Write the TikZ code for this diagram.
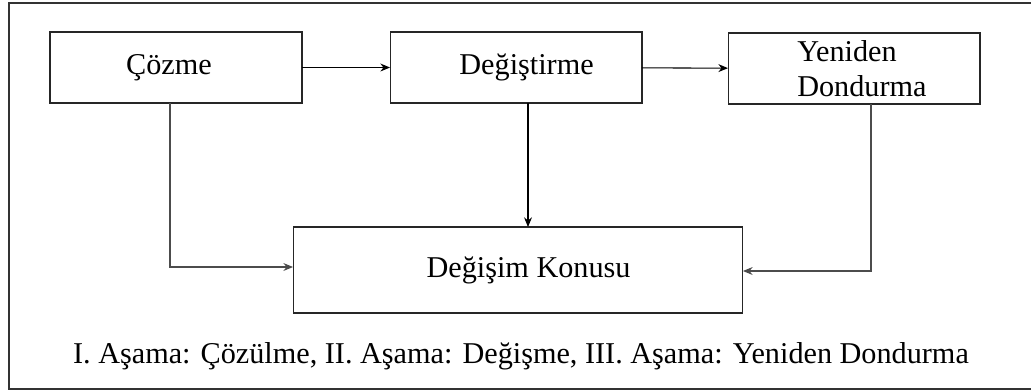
\documentclass[tikz,border=0pt]{standalone}
\usepackage{fontspec}
\setmainfont{Liberation Serif}
\usetikzlibrary{arrows.meta}
\tikzstyle{arrow} = [line width=0.6pt,-{Stealth[length=5.5pt,width=4.5pt]}]
\tikzstyle{stage} = [draw=black!85,line width=0.6pt,outer sep=0pt,minimum width=5.04cm,minimum height=1.42cm]

\begin{document}
\begin{tikzpicture}[x=0.02cm,y=-0.02cm,font=\fontsize{17.2}{20}\selectfont]
\useasboundingbox (0,0) rectangle (1031,390);

% Frame (open on the right)
\draw[line width=1.2pt,black!80] (1040,3) -- (9,3) -- (9,389) -- (1040,389);

% Stage boxes
\node[stage] (cozme) at (176,67.5) {Çözme\hspace*{8pt}};
\node[stage] (degistirme) at (516,67.5) {\hspace*{12pt}Değiştirme};
\node[stage,align=left] (yeniden) at (854,68.5) {\hspace*{9pt}Yeniden\\\hspace*{9pt}Dondurma};

% Subject box
\node[stage,minimum width=9cm,minimum height=1.72cm] (konu) at (518,270) {\hspace*{12pt}Değişim Konusu};

% Caption
\node[anchor=base] (asama) at (521,363) {I. Aşama: Çözülme, II. Aşama: Değişme, III. Aşama: Yeniden Dondurma};

% Turning points
\coordinate (c1) at (170,267);
\coordinate (c2) at (528,0);
\coordinate (c3) at (871,271);

% Arrows
\draw[arrow] (cozme) -- (degistirme);
\draw[arrow] (degistirme) -- (yeniden);
\draw[arrow,black!70] (cozme.south -| c1) |- (konu.west |- c1);
\draw[arrow] (degistirme.south -| c2) -- (konu.north -| c2);
\draw[arrow,black!70] (yeniden.south -| c3) |- (konu.east |- c3);
\end{tikzpicture}
\end{document}
